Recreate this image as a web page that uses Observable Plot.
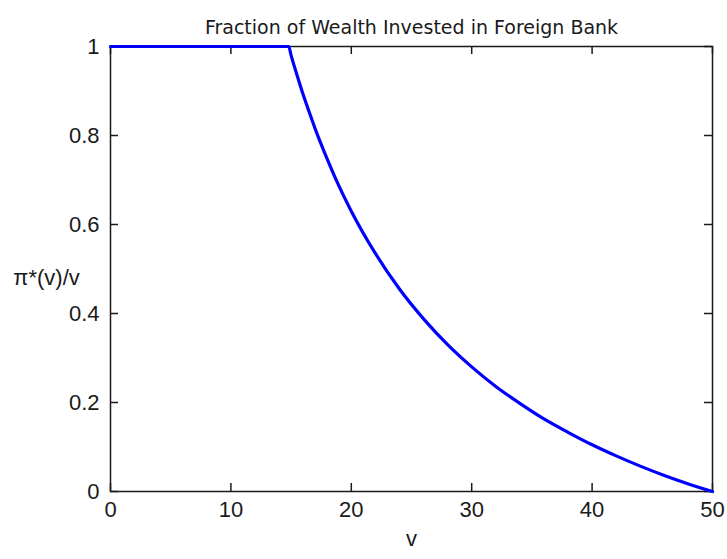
<!DOCTYPE html>
<html>
<head>
<meta charset="utf-8">
<script src="https://cdn.jsdelivr.net/npm/d3@7"></script>
<script src="https://cdn.jsdelivr.net/npm/@observablehq/plot@0.6"></script>
<style>
  html, body { margin: 0; padding: 0; background: #fff; }
</style>
</head>
<body>
<div id="chart"></div>
<script>
const titleText = "Fraction of Wealth Invested in Foreign Bank";
const xLabel = "v";
const yLabel = "π*(v)/v";
const xTicks = [0, 10, 20, 30, 40, 50];
const yTicks = [0, 0.2, 0.4, 0.6, 0.8, 1];
const yTickLabels = ["0", "0.2", "0.4", "0.6", "0.8", "1"];
const vValues = [0, 5, 10, 14.8, 15, 15.5, 16, 16.5, 17, 17.5, 18, 19, 20, 22, 24, 26, 28, 30, 32, 34, 36, 38, 40, 42, 44, 46, 48, 50];
const fractionValues = [1, 1, 1, 1, 0.98, 0.935, 0.892, 0.853, 0.815, 0.78, 0.747, 0.685, 0.63, 0.535, 0.455, 0.388, 0.33, 0.28, 0.236, 0.198, 0.163, 0.133, 0.105, 0.08, 0.057, 0.036, 0.017, 0];

const data = vValues.map((v, i) => ({v, f: fractionValues[i]}));

const W = 727, H = 559;
const mL = 110, mR = 15, mT = 46, mB = 68;
const tickLen = 8;
const tickFont = "Liberation Sans, Arial, sans-serif";
const ink = "#1a1a1a";

const chart = Plot.plot({
  width: W,
  height: H,
  marginLeft: mL,
  marginRight: mR,
  marginTop: mT,
  marginBottom: mB,
  style: {background: "#fff", fontFamily: tickFont, color: ink},
  x: {domain: [0, 50]},
  y: {domain: [0, 1]},
  marks: [
    Plot.frame({stroke: ink, strokeWidth: 1.5}),
    Plot.axisX(xTicks, {tickSize: 0, tickPadding: 10, fontSize: 22, label: null, fill: ink}),
    Plot.axisY(yTicks, {tickSize: 0, tickPadding: 11, fontSize: 22, label: null, fill: ink,
      tickFormat: d => yTickLabels[yTicks.indexOf(d)]}),
    // inward ticks on all four sides
    Plot.tickX(xTicks, {x: d => d, frameAnchor: "bottom", stroke: ink, strokeWidth: 1.5, y: null,
      render: (index, scales, values, dims, context, next) => {
        const g = next(index, scales, values, dims, context);
        d3.select(g).selectAll("line")
          .attr("y1", dims.height - dims.marginBottom - tickLen)
          .attr("y2", dims.height - dims.marginBottom);
        return g;
      }}),
    Plot.tickX(xTicks, {x: d => d, stroke: ink, strokeWidth: 1.5,
      render: (index, scales, values, dims, context, next) => {
        const g = next(index, scales, values, dims, context);
        d3.select(g).selectAll("line")
          .attr("y1", dims.marginTop)
          .attr("y2", dims.marginTop + tickLen);
        return g;
      }}),
    Plot.tickY(yTicks, {y: d => d, stroke: ink, strokeWidth: 1.5,
      render: (index, scales, values, dims, context, next) => {
        const g = next(index, scales, values, dims, context);
        d3.select(g).selectAll("line")
          .attr("x1", dims.marginLeft)
          .attr("x2", dims.marginLeft + tickLen);
        return g;
      }}),
    Plot.tickY(yTicks, {y: d => d, stroke: ink, strokeWidth: 1.5,
      render: (index, scales, values, dims, context, next) => {
        const g = next(index, scales, values, dims, context);
        d3.select(g).selectAll("line")
          .attr("x1", dims.width - dims.marginRight - tickLen)
          .attr("x2", dims.width - dims.marginRight);
        return g;
      }}),
    Plot.line(data, {x: "v", y: "f", stroke: "#0000ff", strokeWidth: 3.2, curve: "monotone-x"}),
    Plot.text([titleText], {text: d => d, frameAnchor: "top", dy: -26, fontSize: 19, fontFamily: "DejaVu Sans, sans-serif", fill: ink}),
    Plot.text([xLabel], {text: d => d, frameAnchor: "bottom", dy: 54, fontSize: 22, fill: ink}),
    Plot.text([yLabel], {text: d => d, frameAnchor: "left", dx: -64, dy: 9, fontSize: 22, textAnchor: "middle", fill: ink})
  ]
});

document.getElementById("chart").appendChild(chart);
</script>
</body>
</html>
